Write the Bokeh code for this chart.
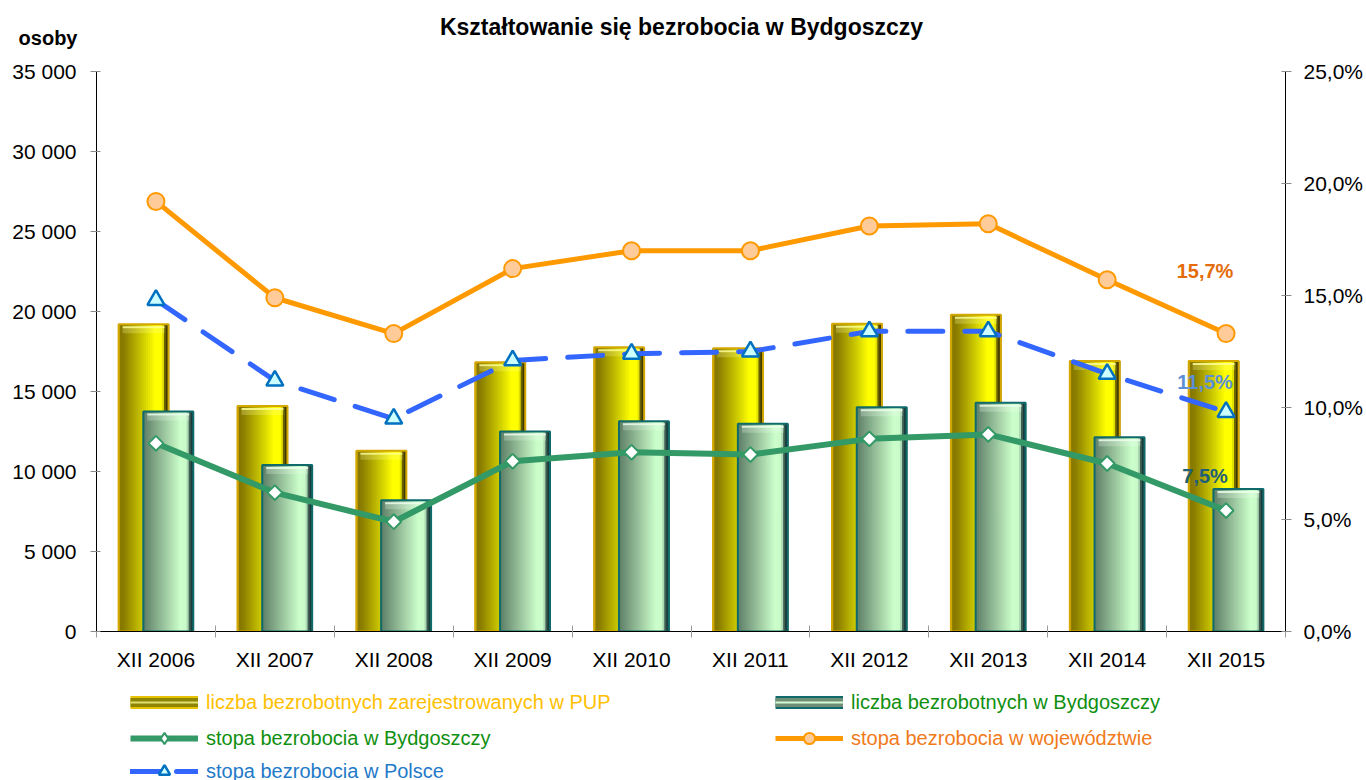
import numpy as np
from bokeh.plotting import figure
from bokeh.layouts import column
from bokeh.models import (Range1d, LinearAxis, FixedTicker, Legend, LegendItem,
                          Label, ColumnDataSource)
from bokeh.core.properties import value
from bokeh.embed import file_html
from bokeh.resources import INLINE

# ---------------- data ----------------
years = ["XII 2006", "XII 2007", "XII 2008", "XII 2009", "XII 2010",
         "XII 2011", "XII 2012", "XII 2013", "XII 2014", "XII 2015"]
registered_pup = [19200, 14100, 11300, 16830, 17770, 17700, 19230, 19790, 16900, 16900]
unemployed_bydgoszcz = [13750, 10400, 8200, 12500, 13140, 12980, 14020, 14290, 12140, 8900]
rate_bydgoszcz = [8.4, 6.2, 4.9, 7.6, 8.0, 7.9, 8.6, 8.8, 7.5, 5.4]
rate_voivodeship = [19.2, 14.9, 13.3, 16.2, 17.0, 17.0, 18.1, 18.2, 15.7, 13.3]
rate_poland = [14.8, 11.2, 9.5, 12.1, 12.4, 12.5, 13.4, 13.4, 11.5, 9.8]

count_ticks = [0, 5000, 10000, 15000, 20000, 25000, 30000, 35000]
count_tick_labels = ["0", "5 000", "10 000", "15 000", "20 000", "25 000", "30 000", "35 000"]
pct_ticks = [0, 5, 10, 15, 20, 25]
pct_tick_labels = ["0,0%", "5,0%", "10,0%", "15,0%", "20,0%", "25,0%"]

value_labels = ["15,7%", "11,5%", "7,5%"]

legend_labels = ["liczba bezrobotnych zarejestrowanych w PUP",
                 "liczba bezrobotnych w Bydgoszczy",
                 "stopa bezrobocia w Bydgoszczy",
                 "stopa bezrobocia w województwie",
                 "stopa bezrobocia w Polsce"]

title_text = "Kształtowanie się bezrobocia w Bydgoszczy"
y_unit_text = "osoby"

# ---------------- layout constants (page pixels) ----------------
ARIAL = "Liberation Sans"
W = 1366
LEFT, RIGHT = 96, 81          # borders around the plotting frame
FRAME_L, FRAME_R = LEFT, W - RIGHT
HEADER_H = 59
FRAME_H = 560
MAIN_TOP, MAIN_BOTTOM = 12, 49
LEG_H = 100
LEG_TOP = HEADER_H + MAIN_TOP + FRAME_H + MAIN_BOTTOM   # page y where legend panel starts


def hex2rgb(h):
    h = h.lstrip("#")
    return tuple(int(h[i:i + 2], 16) for i in (0, 2, 4))


def interp(stops, t):
    for (p0, c0), (p1, c1) in zip(stops[:-1], stops[1:]):
        if p0 <= t <= p1:
            f = 0 if p1 == p0 else (t - p0) / (p1 - p0)
            a, b = hex2rgb(c0), hex2rgb(c1)
            return "#%02x%02x%02x" % tuple(int(round(a[i] + (b[i] - a[i]) * f)) for i in range(3))
    return stops[-1][1]


YELLOW_STOPS = [(0.0, "#c9a200"), (0.05, "#857700"), (0.12, "#8a7d00"), (0.55, "#d8d600"),
                (0.74, "#ffff00"), (0.89, "#ffff00"), (0.94, "#6a6200"), (1.0, "#2a2600")]
GREEN_STOPS = [(0.0, "#5a7a62"), (0.08, "#688a70"), (0.50, "#a6d2a8"), (0.76, "#ccffcc"),
               (0.89, "#c8f8c8"), (0.94, "#3e5e54"), (1.0, "#0a2a2a")]

N_STRIPS = 25
BAR_W = 0.42
BAR_SHIFT = 0.104

n = len(years)
xpos = np.arange(n) + 0.5

Y_MAX = count_ticks[-1]
px = Y_MAX / FRAME_H  # data units per pixel on the count axis


def strip_source(centers, tops, stops):
    xs, ts, cs = [], [], []
    sw = BAR_W / N_STRIPS
    for k in range(N_STRIPS):
        t = (k + 0.5) / N_STRIPS
        col = interp(stops, t)
        for c, v in zip(centers, tops):
            xs.append(c - BAR_W / 2 + (k + 0.5) * sw)
            ts.append(v)
            cs.append(col)
    return ColumnDataSource(dict(x=xs, top=ts, color=cs)), sw


def blank(fig):
    fig.grid.visible = False
    fig.outline_line_color = None
    fig.background_fill_color = "white"
    fig.border_fill_color = "white"


# ---------------- header (title + unit of the left axis) ----------------
header = figure(width=W, height=HEADER_H, output_backend="svg", toolbar_location=None, tools="",
                x_range=Range1d(FRAME_L, FRAME_R), y_range=Range1d(0, HEADER_H),
                x_axis_location=None, min_border_left=LEFT, min_border_right=RIGHT,
                min_border_top=0, min_border_bottom=0)
blank(header)
ha = header.yaxis[0]
ha.ticker = FixedTicker(ticks=[HEADER_H - 37])
ha.major_label_overrides = {HEADER_H - 37: y_unit_text}
ha.axis_line_color = None
ha.major_tick_line_color = None
ha.minor_tick_line_color = None
ha.major_tick_in = 0
ha.major_tick_out = 0
ha.major_label_standoff = 19
ha.major_label_text_font = ARIAL
ha.major_label_text_font_size = "20px"
ha.major_label_text_font_style = "bold"
ha.major_label_text_color = "black"
header.add_layout(Label(x=681, y=HEADER_H - 26, text=title_text, text_font=ARIAL,
                        text_font_size="23px", text_font_style="bold", text_color="black",
                        text_align="center", text_baseline="middle"))

# ---------------- main figure ----------------
p = figure(width=W, height=MAIN_TOP + FRAME_H + MAIN_BOTTOM, output_backend="svg",
           toolbar_location=None, tools="",
           x_range=Range1d(0, n), y_range=Range1d(0, Y_MAX),
           min_border_left=LEFT, min_border_right=RIGHT, min_border_top=MAIN_TOP,
           min_border_bottom=MAIN_BOTTOM)
p.extra_y_ranges = {"pct": Range1d(pct_ticks[0], pct_ticks[-1])}
blank(p)

# x axis
xa = p.xaxis[0]
xa.ticker = FixedTicker(ticks=list(xpos), minor_ticks=list(range(0, n + 1)))
xa.major_label_overrides = {float(x): lab for x, lab in zip(xpos, years)}
xa.major_tick_line_color = None
xa.major_tick_in = 0
xa.major_tick_out = 0
xa.minor_tick_line_color = "#9a9a9a"
xa.minor_tick_in = 6
xa.minor_tick_out = 6
xa.axis_line_color = "black"
xa.major_label_text_font = ARIAL
xa.major_label_text_font_size = "21px"
xa.major_label_text_color = "black"
xa.major_label_standoff = 10

# left axis
ya = p.yaxis[0]
ya.ticker = FixedTicker(ticks=count_ticks)
ya.major_label_overrides = {t: lab for t, lab in zip(count_ticks, count_tick_labels)}
ya.minor_tick_line_color = None
ya.major_tick_line_color = "#8a8a8a"
ya.major_tick_in = 4
ya.major_tick_out = 6
ya.axis_line_color = "black"
ya.major_label_text_font = ARIAL
ya.major_label_text_font_size = "21px"
ya.major_label_text_color = "black"
ya.major_label_standoff = 14

# right axis
ra = LinearAxis(y_range_name="pct", ticker=FixedTicker(ticks=pct_ticks))
ra.major_label_overrides = {t: lab for t, lab in zip(pct_ticks, pct_tick_labels)}
ra.minor_tick_line_color = None
ra.major_tick_line_color = "#8a8a8a"
ra.major_tick_in = 4
ra.major_tick_out = 6
ra.axis_line_color = "black"
ra.major_label_text_font = ARIAL
ra.major_label_text_font_size = "21px"
ra.major_label_text_color = "black"
ra.major_label_standoff = 12
p.add_layout(ra, "right")


# ---------------- bars ----------------
def draw_bars(centers, vals, stops, border, highlight):
    src, sw = strip_source(centers, vals, stops)
    p.vbar(x="x", top="top", width=sw * 1.6, bottom=0, source=src,
           fill_color="color", line_color=None)
    vals = np.array(vals, dtype=float)
    # bevel highlight near the top
    p.vbar(x=centers, top=vals - 2 * px, bottom=vals - 4 * px, width=BAR_W * 0.84,
           fill_color=highlight, fill_alpha=0.85, line_color=None)
    p.vbar(x=centers, top=vals - 4 * px, bottom=vals - 9 * px, width=BAR_W * 0.84,
           fill_color=highlight, fill_alpha=0.25, line_color=None)
    p.vbar(x=centers, top=vals, bottom=0, width=BAR_W, fill_color=None,
           line_color=border, line_width=2)


draw_bars(xpos - BAR_SHIFT, registered_pup, YELLOW_STOPS, "#d4a800", "#ffff9a")
draw_bars(xpos + BAR_SHIFT, unemployed_bydgoszcz, GREEN_STOPS, "#0f6b6b", "#f0fff0")

# ---------------- lines ----------------
WOJ = dict(line_color="#ff9900", line_width=5)
WOJ_M = dict(marker="circle", fill_color="#ffcc99", line_color="#ff9900", line_width=2)
PL = dict(line_color="#3366ff", line_width=5, line_dash="35 22", line_cap="round")
PL_M = dict(marker="triangle", fill_color="#ccffff", line_color="#0070c0", line_width=2.5)
BYD = dict(line_color="#339966", line_width=6)
BYD_M = dict(fill_color="white", line_color="#339966", line_width=2)

p.line(xpos, rate_voivodeship, y_range_name="pct", **WOJ)
p.scatter(xpos, rate_voivodeship, y_range_name="pct", size=17, **WOJ_M)
p.line(xpos, rate_poland, y_range_name="pct", **PL)
p.scatter(xpos, rate_poland, y_range_name="pct", size=17, **PL_M)
p.line(xpos, rate_bydgoszcz, y_range_name="pct", **BYD)
p.scatter(xpos, rate_bydgoszcz, y_range_name="pct", marker="square", size=10.5,
          angle=np.pi / 4, **BYD_M)

# ---------------- value labels (2014 values, written beside the last category) ----------------
lab_src = ColumnDataSource(dict(
    x=[xpos[-1]] * 3,
    y=[rate_voivodeship[-2], rate_poland[-2], rate_bydgoszcz[-2]],
    text=value_labels,
    color=["#e46c0a", "#5b8fd6", "#215f78"],
    yoff=[-9, 8, 12],
))
p.text(x="x", y="y", text="text", source=lab_src, y_range_name="pct",
       x_offset=-21, y_offset="yoff", text_color="color", text_align="center",
       text_baseline="middle", text_font=value(ARIAL), text_font_size="20px",
       text_font_style="bold")

# ---------------- legend panel ----------------
lf = figure(width=W, height=LEG_H, output_backend="svg", toolbar_location=None, tools="",
            x_range=Range1d(FRAME_L, FRAME_R), y_range=Range1d(0, LEG_H),
            x_axis_location=None, y_axis_location=None,
            min_border_left=LEFT, min_border_right=RIGHT, min_border_top=0, min_border_bottom=0)
blank(lf)

NA = [np.nan]  # legend-only proxies: nothing is drawn in the panel itself
ly = [lf.line(NA, NA, line_color="#e6c200", line_width=13, line_cap="butt"),
      lf.line(NA, NA, line_color="#8f8400", line_width=9, line_cap="butt"),
      lf.line(NA, NA, line_color="#e0e070", line_width=2, line_cap="butt")]
lg = [lf.line(NA, NA, line_color="#0f6b6b", line_width=13, line_cap="butt"),
      lf.line(NA, NA, line_color="#6e8f75", line_width=9, line_cap="butt"),
      lf.line(NA, NA, line_color="#d8f8d8", line_width=2, line_cap="butt")]
lbyd = [lf.line(NA, NA, **BYD), lf.scatter(NA, NA, marker="diamond", size=17, **BYD_M)]
lwoj = [lf.line(NA, NA, **WOJ), lf.scatter(NA, NA, size=17, **WOJ_M)]
lpl = [lf.line(NA, NA, line_color="#3366ff", line_width=5, line_dash="30 16", line_cap="round"),
       lf.scatter(NA, NA, size=17, **PL_M)]

GH = 28


def add_legend(label, renderers, color, page_x, row_center):
    leg = Legend(items=[LegendItem(label=label, renderers=renderers)],
                 location=(page_x - FRAME_L, LEG_TOP + LEG_H - row_center - GH // 2),
                 glyph_width=68, glyph_height=GH, label_height=GH, label_standoff=8,
                 padding=0, margin=0, spacing=0,
                 border_line_color=None, background_fill_alpha=0,
                 label_text_font=ARIAL, label_text_font_size="20px",
                 label_text_color=color)
    lf.add_layout(leg, "center")


add_legend(legend_labels[0], ly, "#ffc000", 130, 702)
add_legend(legend_labels[1], lg, "#0f8f0f", 775, 702)
add_legend(legend_labels[2], lbyd, "#0f8f0f", 130, 738)
add_legend(legend_labels[3], lwoj, "#f07a1a", 775, 738)
add_legend(legend_labels[4], lpl, "#1f7ac8", 130, 771)

layout = column(header, p, lf, spacing=0)
open("out.html", "w").write(file_html(layout, INLINE))
